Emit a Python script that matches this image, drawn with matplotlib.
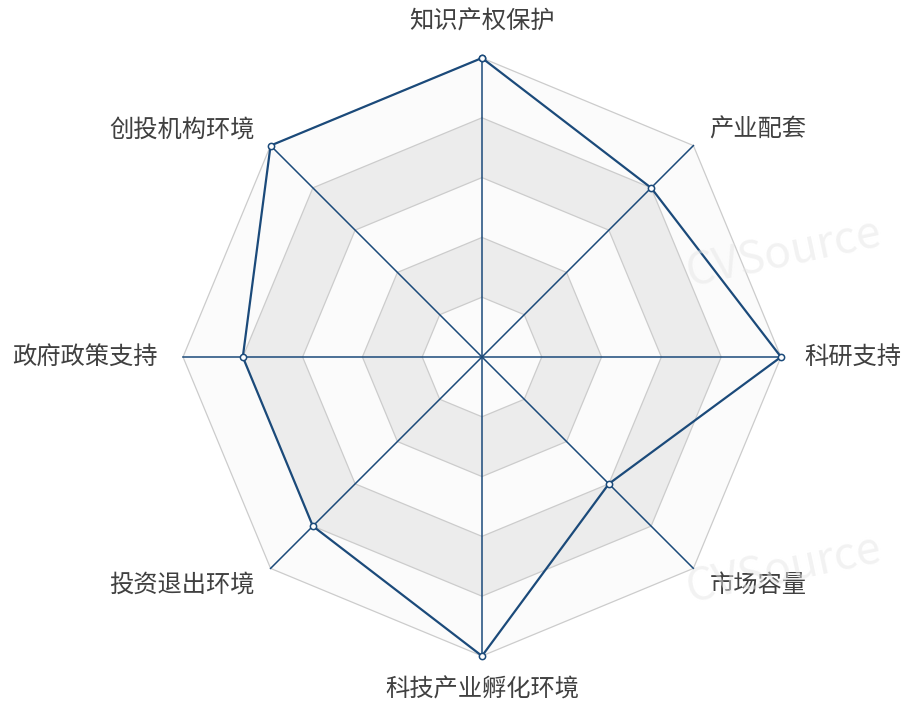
import numpy as np
import matplotlib
matplotlib.use('Agg')
import matplotlib.pyplot as plt

plt.rcParams['font.family'] = ['Noto Sans CJK SC', 'DejaVu Sans']

# indicators, clockwise from the top
labels = ['知识产权保护', '产业配套', '科研支持', '市场容量',
          '科技产业孵化环境', '投资退出环境', '政府政策支持', '创投机构环境']
scores = [5, 4, 5, 3, 5, 4, 4, 5]
max_score = 5
levels = [1, 2, 3, 4, 5]

line_color = '#1b4a7a'
split_color = '#cccccc'
band_colors = ['#fbfbfb', '#ececec']

n = len(labels)
theta = np.arange(n) * 2 * np.pi / n
theta_closed = np.append(theta, theta[0])

fig = plt.figure(figsize=(9.01, 7.03), dpi=100)
ax = fig.add_axes([0.2031, 0.0669, 0.6637, 0.8506], projection='polar')
ax.set_theta_zero_location('N')
ax.set_theta_direction(-1)
ax.set_ylim(0, max_score)
ax.axis('off')

# split areas (alternating bands, drawn from the outside in)
for i in range(len(levels) - 1, -1, -1):
    r = levels[i]
    ax.fill(theta_closed, [r] * (n + 1), color=band_colors[i % 2], zorder=1, lw=0)
    ax.plot(theta_closed, [r] * (n + 1), color=split_color, lw=0.9, zorder=2,
            clip_on=False)

# axis lines
for t in theta:
    ax.plot([t, t], [0, max_score], color=line_color, lw=1.1, zorder=3, clip_on=False)

# data
vals = np.append(scores, scores[0])
ax.plot(theta_closed, vals, color=line_color, lw=1.6, zorder=4, clip_on=False,
        marker='o', markersize=4.5, markerfacecolor='white',
        markeredgecolor=line_color, markeredgewidth=1.1)

# indicator labels
offsets = [(0, 36, 'center'), (16, 16, 'left'), (23, 0, 'left'), (16, -16, 'left'),
           (0, -34, 'center'), (-16, -16, 'right'), (-25, 0, 'right'), (-16, 16, 'right')]
for t, lab, (dx, dy, ha) in zip(theta, labels, offsets):
    ax.annotate(lab, xy=(t, max_score), xytext=(dx, dy), textcoords='offset pixels',
                ha=ha, va='center', fontsize=17.5, color='#404040',
                annotation_clip=False, zorder=5)

# faint watermark
for x, y in [(0.87, 0.64), (0.87, 0.19)]:
    fig.text(x, y, 'CVSource', fontsize=32, color='#e6e6e6', alpha=0.5,
             rotation=12, ha='center', va='center', fontweight='light', zorder=0)

fig.savefig('out.png', dpi=100)
